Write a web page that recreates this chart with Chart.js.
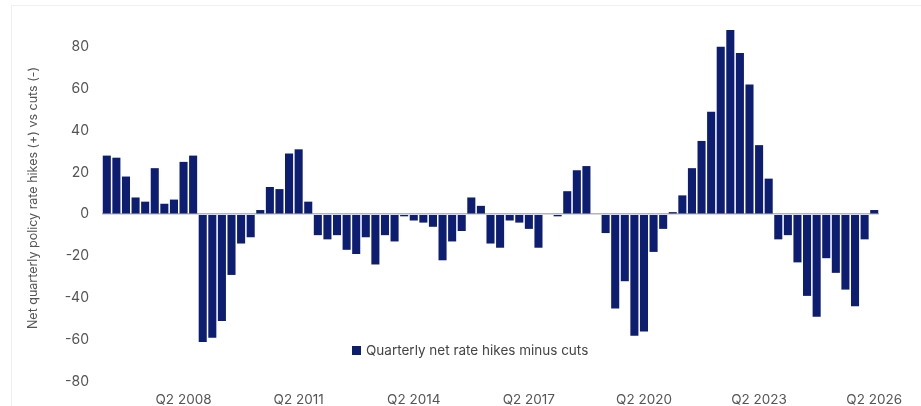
<!DOCTYPE html>
<html>
<head>
<meta charset="utf-8">
<script src="https://cdn.jsdelivr.net/npm/chart.js@4"></script>
<style>
  html, body { margin: 0; padding: 0; background: #fff; }
  #wrap { position: relative; width: 921px; height: 406px; overflow: hidden; }
  #frame { position: absolute; left: 11px; top: 5px; width: 920px; height: 420px; border-left: 1px solid #f0f0f0; border-top: 1px solid #f0f0f0; }
  canvas { position: absolute; left: 0; top: 0; }
  #legend { position: absolute; left: 352px; top: 342px; font-family: Inter, "Noto Sans", sans-serif; font-size: 13.5px; color: #444; display: flex; align-items: center; white-space: nowrap; }
  #legend span.box { display: inline-block; width: 9px; height: 9px; margin-right: 5px; }
</style>
</head>
<body>
<div id="wrap">
  <div id="frame"></div>
  <canvas id="c" width="921" height="406"></canvas>
  <div id="legend"></div>
</div>
<script>
// Quarters Q2 2006 .. Q2 2026
const startYear = 2006, startQ = 2;
const values = [
  28, 27, 18, 8, 6, 22, 5, 7, 25, 28,
  -61, -59, -51, -29, -14, -11, 2, 13, 12, 29,
  31, 6, -10, -12, -10, -17, -19, -11, -24, -10,
  -13, -1, -3, -4, -6, -22, -13, -8, 8, 4,
  -14, -16, -3, -4, -7, -16, 0, -1, 11, 21,
  23, 0, -9, -45, -32, -58, -56, -18, -7, 1,
  9, 22, 35, 49, 80, 88, 77, 62, 33, 17,
  -12, -10, -23, -39, -49, -21, -28, -36, -44, -12,
  2
];
const categories = values.map((v, i) => {
  const q = (startQ - 1 + i) % 4 + 1;
  const y = startYear + Math.floor((startQ - 1 + i) / 4);
  return 'Q' + q + ' ' + y;
});
const shownTickLabels = ['Q2 2008', 'Q2 2011', 'Q2 2014', 'Q2 2017', 'Q2 2020', 'Q2 2023', 'Q2 2026'];
const yTicks = [-80, -60, -40, -20, 0, 20, 40, 60, 80];
const seriesLabel = 'Quarterly net rate hikes minus cuts';
const yTitle = 'Net quarterly policy rate hikes (+) vs cuts (-)';
const barColor = '#0c1d72';

const lg = document.getElementById('legend');
lg.innerHTML = '<span class="box" style="background:' + barColor + '"></span>' + seriesLabel;

new Chart(document.getElementById('c'), {
  type: 'bar',
  data: {
    labels: categories,
    datasets: [{
      label: seriesLabel,
      data: values,
      backgroundColor: barColor,
      borderWidth: 0,
      barPercentage: 0.84,
      categoryPercentage: 1.0
    }]
  },
  options: {
    responsive: false,
    animation: false,
    devicePixelRatio: 1,
    layout: { padding: { left: 12, right: 42, top: 8, bottom: 0 } },
    plugins: { legend: { display: false }, tooltip: { enabled: false }, title: { display: false } },
    scales: {
      x: {
        grid: { display: false, drawTicks: false },
        border: { display: false },
        afterFit: (s) => { s.height = 18; s.paddingLeft = 0; s.paddingRight = 0; },
        ticks: {
          autoSkip: false, maxRotation: 0, minRotation: 0, padding: 4,
          color: '#555', font: { family: 'Inter, "Noto Sans", sans-serif', size: 13.5 },
          callback: function (val) {
            const l = this.getLabelForValue(val);
            return shownTickLabels.includes(l) ? l : null;
          }
        }
      },
      y: {
        min: -83, max: 98.5,
        afterBuildTicks: (s) => { s.ticks = yTicks.map(v => ({ value: v })); },
        afterFit: (s) => { s.width = 90; s.paddingTop = 0; s.paddingBottom = 0; },
        border: { display: false },
        grid: {
          drawTicks: false,
          color: (ctx) => ctx.tick && ctx.tick.value === 0 ? '#b5b5b5' : 'rgba(0,0,0,0)',
          lineWidth: (ctx) => ctx.tick && ctx.tick.value === 0 ? 1.5 : 0
        },
        ticks: {
          padding: 13, color: '#555',
          font: { family: 'Inter, "Noto Sans", sans-serif', size: 14 }
        },
        title: {
          display: true, text: yTitle, color: '#555',
          font: { family: 'Inter, "Noto Sans", sans-serif', size: 12.5 },
          padding: { top: 14, bottom: 0 }
        }
      }
    }
  }
});
</script>
</body>
</html>
